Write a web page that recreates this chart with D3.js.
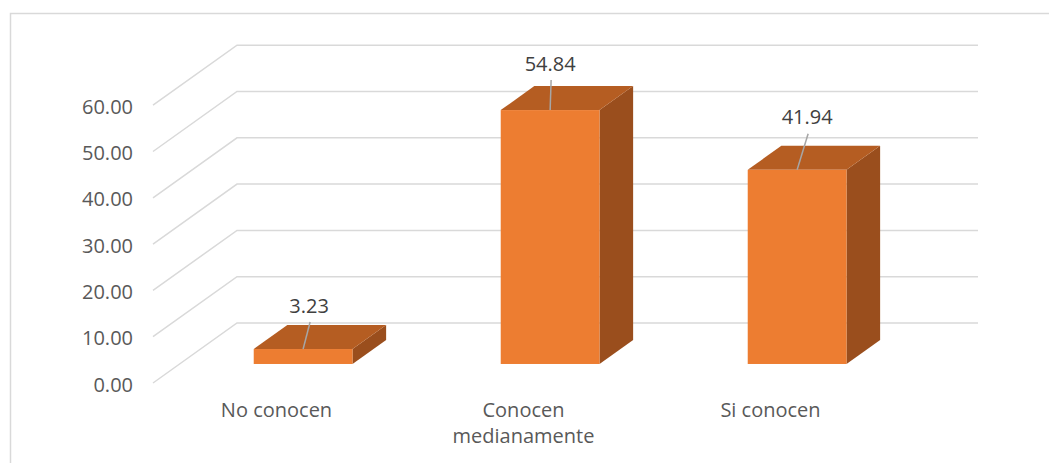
<!DOCTYPE html>
<html>
<head>
<meta charset="utf-8">
<script src="https://cdn.jsdelivr.net/npm/d3@7"></script>
<style>
  html, body { margin: 0; padding: 0; background: #fff; }
  svg { display: block; }
</style>
</head>
<body>
<svg id="chart" width="1049" height="463"></svg>
<script>
// ---- data ----
const categories = ["No conocen", "Conocen medianamente", "Si conocen"];
const values = [3.23, 54.84, 41.94];
const tickValues = [0, 10, 20, 30, 40, 50, 60];
const labelOffsets = [[6, -44], [0, -47], [10, -53]]; // manual data label nudges

// ---- layout ----
const W = 1049, H = 463;
const svg = d3.select("#chart");
const fontFamily = "'Open Sans', 'Noto Sans', sans-serif";

// oblique 3D projection: depth z in [0,1]
const depthDX = 84, depthDY = -60;
const zFront = 0.317, zBack = 0.717;

const x = d3.scaleBand().domain(categories).range([153, 894]).paddingInner(0.6).paddingOuter(0.3);
const y = d3.scaleLinear().domain([0, 60]).range([383, 105.2]);

// chart border
svg.append("rect")
  .attr("x", 10.5).attr("y", 13.5)
  .attr("width", W + 20).attr("height", H + 20)
  .attr("fill", "none").attr("stroke", "#D9D9D9").attr("stroke-width", 1.5);

// gridlines (side wall diagonal + back wall)
const [x0, x1] = x.range();
svg.append("g").selectAll("path").data(tickValues).join("path")
  .attr("d", v => {
    const yf = y(v);
    return `M${x0},${yf} L${x0 + depthDX},${yf + depthDY} L${x1 + depthDX},${yf + depthDY}`;
  })
  .attr("fill", "none").attr("stroke", "#D9D9D9").attr("stroke-width", 1.5);

// y tick labels
svg.append("g").selectAll("text").data(tickValues).join("text")
  .attr("x", 133).attr("y", v => y(v) + 1)
  .attr("text-anchor", "end").attr("dominant-baseline", "central")
  .attr("font-family", fontFamily).attr("font-size", 20).attr("fill", "#595959")
  .text(v => d3.format(".2f")(v));

// bars
const fdx = zFront * depthDX, fdy = zFront * depthDY;
const bdx = zBack * depthDX, bdy = zBack * depthDY;
const bw = x.bandwidth();
const bars = svg.append("g").selectAll("g").data(categories.map((c, i) => ({ c, v: values[i], i }))).join("g");

bars.append("path") // side
  .attr("d", d => {
    const xr = x(d.c) + bw, yt = y(d.v), yb = y(0);
    return `M${xr + fdx},${yt + fdy} L${xr + bdx},${yt + bdy} L${xr + bdx},${yb + bdy} L${xr + fdx},${yb + fdy}Z`;
  })
  .attr("fill", "#9A4E1D");

bars.append("path") // top
  .attr("d", d => {
    const xl = x(d.c), xr = xl + bw, yt = y(d.v);
    return `M${xl + fdx},${yt + fdy} L${xr + fdx},${yt + fdy} L${xr + bdx},${yt + bdy} L${xl + bdx},${yt + bdy}Z`;
  })
  .attr("fill", "#B55D22");

bars.append("rect") // front
  .attr("x", d => x(d.c) + fdx)
  .attr("y", d => y(d.v) + fdy)
  .attr("width", bw)
  .attr("height", d => y(0) - y(d.v))
  .attr("fill", "#ED7D31");

// data labels with leader lines
bars.each(function(d) {
  const g = d3.select(this);
  const ax = x(d.c) + fdx + bw / 2, ay = y(d.v) + fdy;
  const lx = ax + labelOffsets[d.i][0], ly = ay + labelOffsets[d.i][1];
  g.append("line")
    .attr("x1", lx + 1).attr("y1", ly + 17)
    .attr("x2", ax).attr("y2", ay)
    .attr("stroke", "#A6A6A6").attr("stroke-width", 1.5);
  g.append("text")
    .attr("x", lx).attr("y", ly)
    .attr("text-anchor", "middle").attr("dominant-baseline", "central")
    .attr("font-family", fontFamily).attr("font-size", 20).attr("fill", "#404040")
    .text(d3.format(".2f")(d.v));
});

// category labels (wrapped)
const catG = svg.append("g");
categories.forEach(c => {
  const t = catG.append("text")
    .attr("x", x(c) + bw / 2).attr("y", 417)
    .attr("text-anchor", "middle")
    .attr("font-family", fontFamily).attr("font-size", 20).attr("fill", "#595959");
  const words = c.split(" ");
  let line = [], tspan = t.append("tspan").attr("x", x(c) + bw / 2).attr("dy", 0);
  let lineNo = 0;
  words.forEach(w => {
    line.push(w);
    tspan.text(line.join(" "));
    if (tspan.node().getComputedTextLength() > 170 && line.length > 1) {
      line.pop();
      tspan.text(line.join(" "));
      line = [w];
      lineNo++;
      tspan = t.append("tspan").attr("x", x(c) + bw / 2).attr("dy", 26).text(w);
    }
  });
});
</script>
</body>
</html>
